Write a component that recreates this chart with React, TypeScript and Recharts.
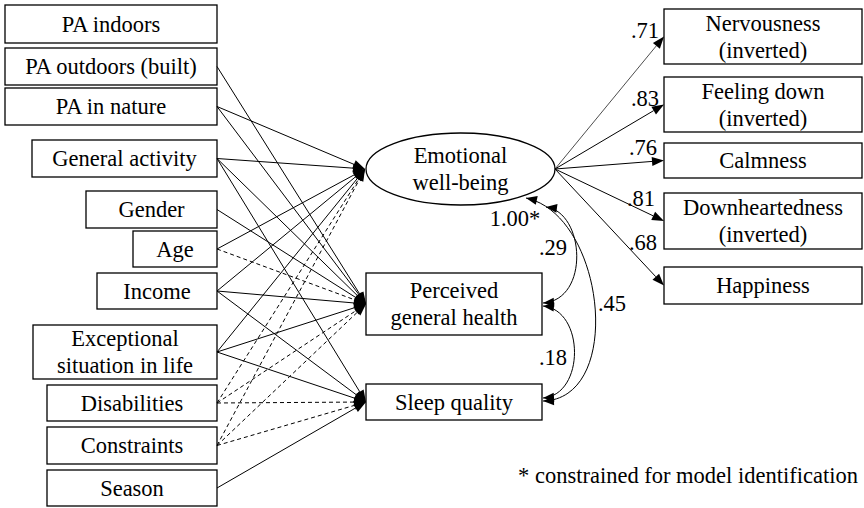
import {
  ReferenceArea,
  ReferenceDot,
  ReferenceLine,
  Scatter,
  ScatterChart,
  XAxis,
  YAxis,
} from "recharts";

// ---- data ----
const predictors = [
  "PA indoors",
  "PA outdoors (built)",
  "PA in nature",
  "General activity",
  "Gender",
  "Age",
  "Income",
  "Exceptional\nsituation in life",
  "Disabilities",
  "Constraints",
  "Season",
];
const outcomes = ["Emotional\nwell-being", "Perceived\ngeneral health", "Sleep quality"];
const indicators = [
  "Nervousness\n(inverted)",
  "Feeling down\n(inverted)",
  "Calmness",
  "Downheartedness\n(inverted)",
  "Happiness",
];
const loadings = [0.71, 0.83, 0.76, 0.81, 0.68];

// regression paths: predictor index -> outcome index, dashed = not significant
const pathFrom = [1, 2, 2, 3, 3, 3, 4, 5, 5, 6, 6, 6, 7, 7, 7, 8, 8, 8, 9, 9, 9, 10];
const pathTo = [1, 0, 1, 0, 1, 2, 1, 0, 1, 0, 1, 2, 0, 1, 2, 0, 1, 2, 0, 1, 2, 2];
const pathDashed = [
  false, false, false, false, false, false, false, false, true, false, false,
  false, false, false, false, true, true, true, true, true, true, false,
];

// residual covariances between outcomes
const covFrom = [0, 1, 0];
const covTo = [1, 2, 2];
const covValues = [0.29, 0.18, 0.45];
const fixedVarianceLabel = "1.00*";
const footnote = "* constrained for model identification";

// ---- layout (pixel space of the 864x508 canvas) ----
const W = 864;
const H = 508;
const FONT = "'Liberation Serif', Tinos, 'Times New Roman', 'DejaVu Serif', serif";
const FS = 22.5;

const predictorRight = 217;
const predictorBoxes = [
  { x1: 5, y1: 5, y2: 43 },
  { x1: 5, y1: 48, y2: 85 },
  { x1: 5, y1: 88, y2: 125 },
  { x1: 32, y1: 140, y2: 177 },
  { x1: 86, y1: 191, y2: 228 },
  { x1: 133, y1: 231, y2: 267 },
  { x1: 97, y1: 273, y2: 309 },
  { x1: 33, y1: 325, y2: 379 },
  { x1: 47, y1: 385, y2: 421 },
  { x1: 47, y1: 427, y2: 464 },
  { x1: 47, y1: 470, y2: 506 },
];
const outcomeBoxes = [
  { x1: 366, x2: 555, y1: 133, y2: 205 },
  { x1: 366, x2: 542, y1: 273, y2: 335 },
  { x1: 366, x2: 542, y1: 384, y2: 420 },
];
const outcomeTips = [
  { x: 365, y: 169 },
  { x: 366, y: 304 },
  { x: 366, y: 402 },
];
const ewbRight = { x: 555, y: 169 };
const indicatorLeft = 664;
const indicatorRight = 862;
const indicatorBoxes = [
  { y1: 9, y2: 64 },
  { y1: 77, y2: 132 },
  { y1: 143, y2: 178 },
  { y1: 193, y2: 249 },
  { y1: 267, y2: 304 },
];
const loadingLabelPos = [
  { x: 645, y: 30 },
  { x: 645, y: 98 },
  { x: 643, y: 147 },
  { x: 641, y: 198 },
  { x: 643, y: 242 },
];
const covLayout = [
  { a: { x: 546, y: 207 }, b: { x: 543, y: 303 }, c1: [39, 5], c2: [47, -3], label: { x: 553, y: 247 } },
  { a: { x: 543, y: 306 }, b: { x: 543, y: 398 }, c1: [42, 4], c2: [42, -3], label: { x: 553, y: 357 } },
  { a: { x: 526, y: 198 }, b: { x: 543, y: 401 }, c1: [79, 17], c2: [82, -2], label: { x: 612, y: 303 } },
];
const fixedVariancePos = { x: 515, y: 218 };
const footnotePos = { x: 688, y: 475 };

const fmt = (v: number) => v.toFixed(2).replace(/^0/, "");

const textStyle = { fontFamily: FONT, fontSize: FS };

function arrowHead(tx: number, ty: number, fx: number, fy: number, len = 12, half = 4.5) {
  const dx = tx - fx;
  const dy = ty - fy;
  const d = Math.hypot(dx, dy) || 1;
  const ux = dx / d;
  const uy = dy / d;
  const bx = tx - ux * len;
  const by = ty - uy * len;
  return {
    bx,
    by,
    points: `${tx},${ty} ${bx - uy * half},${by + ux * half} ${bx + uy * half},${by - ux * half}`,
  };
}

const arrowShape = (dashed: boolean, width = 1) => (p: any) => {
  const h = arrowHead(p.x2, p.y2, p.x1, p.y1);
  return (
    <g>
      <line
        x1={p.x1}
        y1={p.y1}
        x2={h.bx}
        y2={h.by}
        stroke="#000"
        strokeWidth={width}
        strokeDasharray={dashed ? "4 3" : undefined}
      />
      <polygon points={h.points} fill="#000" />
    </g>
  );
};

const curveShape = (c1: number[], c2: number[]) => (p: any) => {
  const c1x = p.x1 + c1[0];
  const c1y = p.y1 + c1[1];
  const c2x = p.x2 + c2[0];
  const c2y = p.y2 + c2[1];
  const hA = arrowHead(p.x1, p.y1, c1x, c1y, 11, 4.5);
  const hB = arrowHead(p.x2, p.y2, c2x, c2y, 11, 4.5);
  return (
    <g>
      <path
        d={`M${p.x1},${p.y1} C${c1x},${c1y} ${c2x},${c2y} ${p.x2},${p.y2}`}
        fill="none"
        stroke="#000"
        strokeWidth={1}
      />
      <polygon points={hA.points} fill="#000" />
      <polygon points={hB.points} fill="#000" />
    </g>
  );
};

function BoxText({ cx, cy, label }: { cx: number; cy: number; label: string }) {
  const lines = label.split("\n");
  return (
    <>
      {lines.map((l, i) => (
        <text
          key={i}
          x={cx}
          y={cy + (i - (lines.length - 1) / 2) * 27}
          textAnchor="middle"
          dominantBaseline="central"
          style={textStyle}
          fill="#000"
        >
          {l}
        </text>
      ))}
    </>
  );
}

const boxShape = (label: string, ellipse = false) => (p: any) => {
  const cx = p.x + p.width / 2;
  const cy = p.y + p.height / 2;
  return (
    <g>
      {ellipse ? (
        <ellipse cx={cx} cy={cy} rx={p.width / 2} ry={p.height / 2} fill="#fff" stroke="#000" strokeWidth={1.3} />
      ) : (
        <rect x={p.x} y={p.y} width={p.width} height={p.height} fill="#fff" stroke="#000" strokeWidth={1.3} />
      )}
      <BoxText cx={cx} cy={cy} label={label} />
    </g>
  );
};

const textShape = (label: string, anchor = "middle") => (p: any) => (
  <text
    x={p.cx}
    y={p.cy}
    textAnchor={anchor}
    dominantBaseline="central"
    style={textStyle}
    fill="#000"
  >
    {label}
  </text>
);

export default function App() {
  return (
    <div style={{ position: "absolute", left: 0, top: 0, background: "#fff", fontFamily: FONT }}>
      <ScatterChart width={W} height={H} margin={{ top: 0, right: 0, bottom: 0, left: 0 }}>
        <XAxis type="number" dataKey="x" domain={[0, W]} hide allowDataOverflow />
        <YAxis type="number" dataKey="y" domain={[0, H]} reversed hide allowDataOverflow />
        <Scatter data={[]} isAnimationActive={false} />

        {pathFrom.map((f, i) => {
          const b = predictorBoxes[f];
          const t = outcomeTips[pathTo[i]];
          return (
            <ReferenceLine
              key={`p${i}`}
              ifOverflow="visible"
              segment={[
                { x: predictorRight, y: (b.y1 + b.y2) / 2 },
                { x: t.x, y: t.y },
              ]}
              shape={arrowShape(pathDashed[i])}
            />
          );
        })}

        {loadings.map((v, i) => {
          const b = indicatorBoxes[i];
          return (
            <ReferenceLine
              key={`l${i}`}
              ifOverflow="visible"
              segment={[
                { x: ewbRight.x, y: ewbRight.y },
                { x: indicatorLeft, y: (b.y1 + b.y2) / 2 },
              ]}
              shape={arrowShape(false, i === 0 ? 0.7 : 1)}
            />
          );
        })}

        {covValues.map((v, i) => {
          const c = covLayout[i];
          return (
            <ReferenceLine
              key={`c${i}`}
              ifOverflow="visible"
              segment={[
                { x: c.a.x, y: c.a.y },
                { x: c.b.x, y: c.b.y },
              ]}
              shape={curveShape(c.c1, c.c2)}
            />
          );
        })}

        {predictors.map((name, i) => {
          const b = predictorBoxes[i];
          return (
            <ReferenceArea
              key={`pb${i}`}
              ifOverflow="visible"
              x1={b.x1}
              x2={predictorRight}
              y1={b.y1}
              y2={b.y2}
              shape={boxShape(name)}
            />
          );
        })}

        {outcomes.map((name, i) => {
          const b = outcomeBoxes[i];
          return (
            <ReferenceArea
              key={`ob${i}`}
              ifOverflow="visible"
              x1={b.x1}
              x2={b.x2}
              y1={b.y1}
              y2={b.y2}
              shape={boxShape(name, i === 0)}
            />
          );
        })}

        {indicators.map((name, i) => {
          const b = indicatorBoxes[i];
          return (
            <ReferenceArea
              key={`ib${i}`}
              ifOverflow="visible"
              x1={indicatorLeft}
              x2={indicatorRight}
              y1={b.y1}
              y2={b.y2}
              shape={boxShape(name)}
            />
          );
        })}

        {loadings.map((v, i) => (
          <ReferenceDot
            key={`ll${i}`}
            ifOverflow="visible"
            x={loadingLabelPos[i].x}
            y={loadingLabelPos[i].y}
            shape={textShape(fmt(v))}
          />
        ))}

        {covValues.map((v, i) => (
          <ReferenceDot
            key={`cl${i}`}
            ifOverflow="visible"
            x={covLayout[i].label.x}
            y={covLayout[i].label.y}
            shape={textShape(fmt(v))}
          />
        ))}

        <ReferenceDot
          ifOverflow="visible"
          x={fixedVariancePos.x}
          y={fixedVariancePos.y}
          shape={textShape(fixedVarianceLabel)}
        />
        <ReferenceDot
          ifOverflow="visible"
          x={footnotePos.x}
          y={footnotePos.y}
          shape={textShape(footnote)}
        />
      </ScatterChart>
    </div>
  );
}
